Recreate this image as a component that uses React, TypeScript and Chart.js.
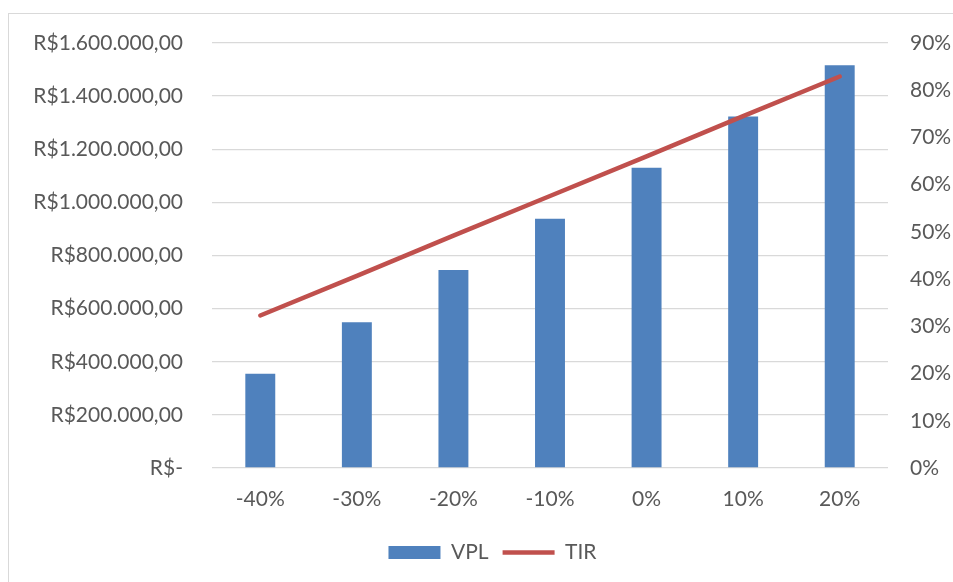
import React, { useEffect, useRef } from "react";
import { Chart, registerables } from "chart.js";

Chart.register(...registerables);

const categories = ["-40%", "-30%", "-20%", "-10%", "0%", "10%", "20%"];
const vplValues = [355000, 549000, 745000, 938000, 1130000, 1323000, 1516000];
const tirValues = [32.3, 40.7, 49.2, 57.6, 66.0, 74.5, 82.9];
const leftTickLabels = [
  "R$-",
  "R$200.000,00",
  "R$400.000,00",
  "R$600.000,00",
  "R$800.000,00",
  "R$1.000.000,00",
  "R$1.200.000,00",
  "R$1.400.000,00",
  "R$1.600.000,00",
];
const rightTickLabels = ["0%", "10%", "20%", "30%", "40%", "50%", "60%", "70%", "80%", "90%"];

const FONT = "Lato, 'Open Sans', sans-serif";
const TEXT = "#595959";
const FS = 21;

export default function App() {
  const ref = useRef<HTMLCanvasElement | null>(null);

  useEffect(() => {
    if (!ref.current) return;
    const chart = new Chart(ref.current, {
      type: "bar",
      data: {
        labels: categories,
        datasets: [
          {
            type: "line",
            label: "TIR",
            data: tirValues,
            yAxisID: "y1",
            borderColor: "#C0504D",
            backgroundColor: "#C0504D",
            borderWidth: 4.5,
            borderCapStyle: "round",
            pointRadius: 0,
            pointStyle: "line",
            tension: 0,
            order: 0,
          } as any,
          {
            type: "bar",
            label: "VPL",
            data: vplValues,
            yAxisID: "y",
            backgroundColor: "#4F81BD",
            borderWidth: 0,
            categoryPercentage: 1,
            barPercentage: 0.31,
            pointStyle: "rect",
            order: 1,
          } as any,
        ],
      },
      options: {
        responsive: false,
        animation: false,
        layout: { padding: { top: 43, bottom: 9, left: 32, right: 0 } },
        plugins: {
          tooltip: { enabled: false },
          legend: {
            position: "bottom",
            reverse: true,
            labels: {
              usePointStyle: true,
              pointStyleWidth: 52,
              boxHeight: 13,
              color: TEXT,
              font: { family: FONT, size: FS },
              padding: 14,
            },
          },
        },
        scales: {
          x: {
            grid: { display: false, drawTicks: false },
            border: { display: false },
            ticks: {
              color: TEXT,
              font: { family: FONT, size: FS },
              padding: 19,
            },
            afterFit: (s: any) => {
              s.height = 60;
            },
          },
          y: {
            position: "left",
            min: 0,
            max: 1600000,
            grid: { color: "#d9d9d9", lineWidth: 1.3, drawTicks: false },
            border: { display: false },
            ticks: {
              stepSize: 200000,
              color: TEXT,
              font: { family: FONT, size: FS },
              padding: 29,
              callback: (_v: any, i: number) => leftTickLabels[i],
            },
            afterFit: (s: any) => {
              s.width = 180;
            },
          },
          y1: {
            position: "right",
            min: 0,
            max: 90,
            grid: { display: false, drawTicks: false },
            border: { display: false },
            ticks: {
              stepSize: 10,
              color: TEXT,
              font: { family: FONT, size: FS },
              padding: 22,
              callback: (_v: any, i: number) => rightTickLabels[i],
            },
            afterFit: (s: any) => {
              s.width = 65;
            },
          },
        },
      },
    });
    return () => chart.destroy();
  }, []);

  return (
    <div style={{ position: "fixed", left: 0, top: 0, width: 953, height: 582, overflow: "hidden", background: "#fff" }}>
      <div
        style={{
          position: "absolute",
          left: 8,
          top: 13,
          width: 1200,
          height: 1200,
          border: "1.5px solid #d9d9d9",
        }}
      />
      <canvas ref={ref} width={953} height={582} style={{ position: "absolute", left: 0, top: 0, width: 953, height: 582 }} />
    </div>
  );
}
